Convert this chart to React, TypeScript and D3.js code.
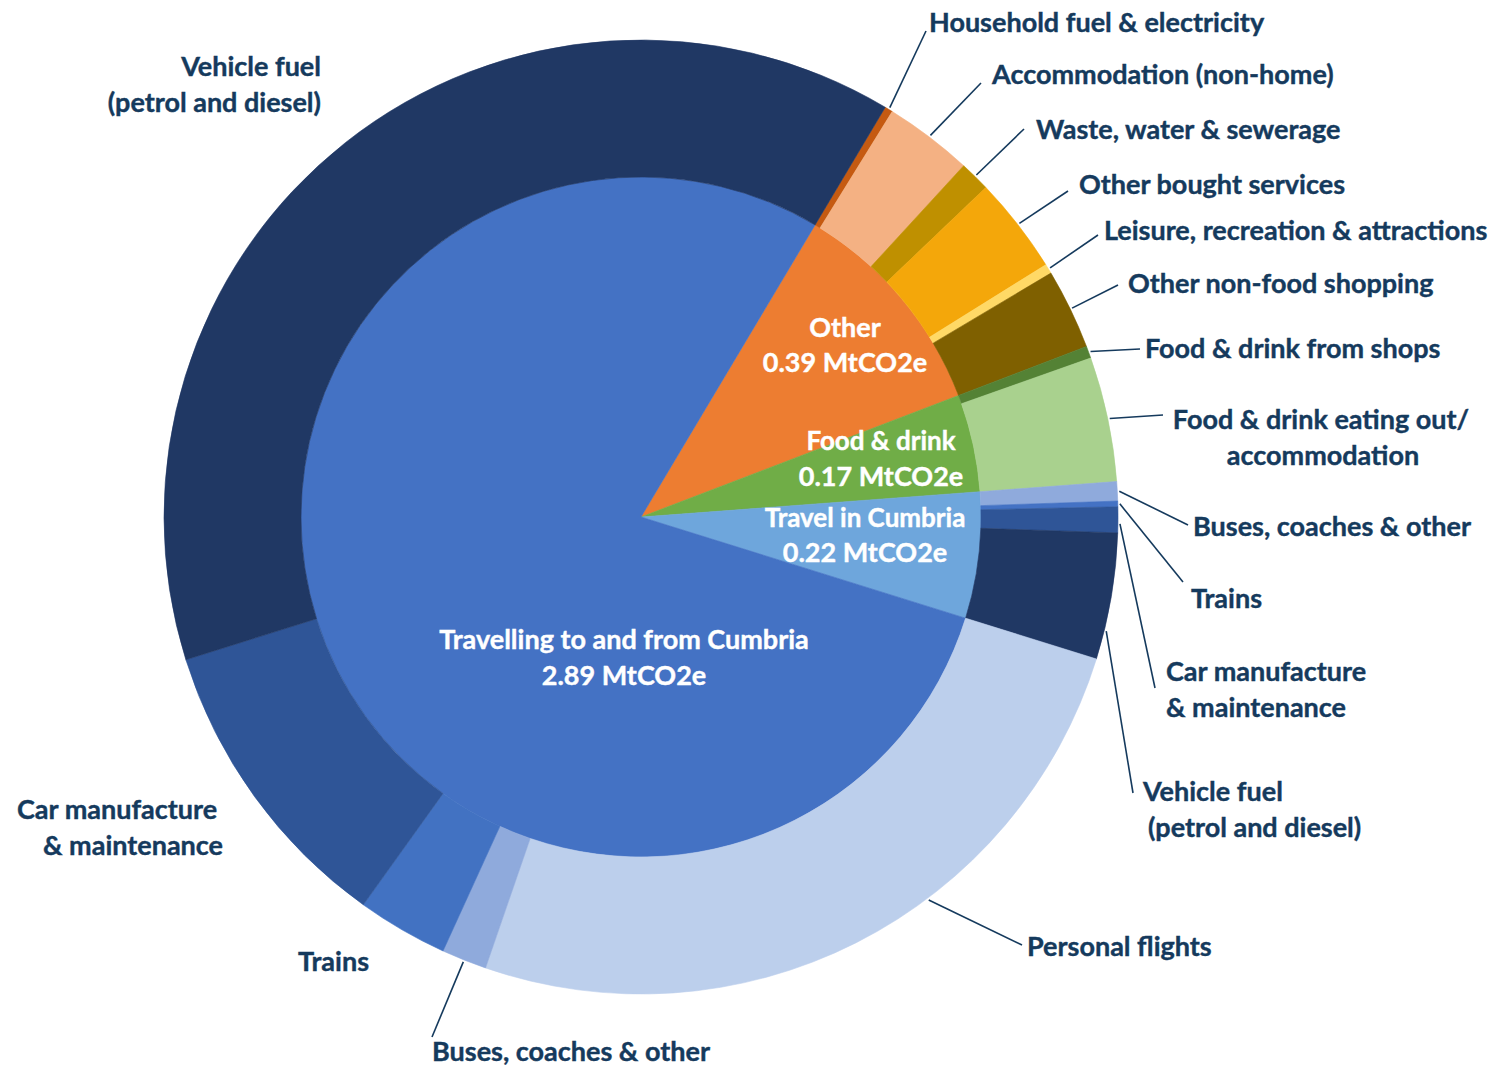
import React, { useEffect } from "react";
import * as d3 from "d3";

// ---------- data ----------
const innerCategories = ["Other", "Food & drink", "Travel in Cumbria", "Travelling to and from Cumbria"];
const innerValues = [0.39, 0.17, 0.22, 2.89];
const innerColors = ["#ed7d31", "#70ad47", "#6ea6dc", "#4472c4"];

const outerParents = [0, 0, 0, 0, 0, 0, 1, 1, 2, 2, 2, 2, 3, 3, 3, 3, 3];
const outerNames = [
  "Household fuel & electricity",
  "Accommodation (non-home)",
  "Waste, water & sewerage",
  "Other bought services",
  "Leisure, recreation & attractions",
  "Other non-food shopping",
  "Food & drink from shops",
  "Food & drink eating out/ accommodation",
  "Buses, coaches & other",
  "Trains",
  "Car manufacture & maintenance",
  "Vehicle fuel (petrol and diesel)",
  "Personal flights",
  "Buses, coaches & other",
  "Trains",
  "Car manufacture & maintenance",
  "Vehicle fuel (petrol and diesel)",
];
const outerValues = [0.01, 0.11, 0.038, 0.12, 0.012, 0.1, 0.015, 0.155, 0.024, 0.007, 0.032, 0.157, 0.935, 0.056, 0.113, 0.377, 1.409];
const outerColors = [
  "#c55a11", "#f4b183", "#bf9000", "#f4a70a", "#ffd966", "#7f6000",
  "#548235", "#a9d18e",
  "#8faadc", "#4472c4", "#2f5597", "#203864",
  "#bccfec", "#8faadc", "#4272c2", "#2f5597", "#203864",
];

const unit = "MtCO2e";

// ---------- layout ----------
const W = 1492, H = 1067;
const CX = 641, CY = 517;
const R_IN = 340, R_OUT = 477;
const START_DEG = 30.8;
const TEXT = "#153a5d";
const FONT = "Lato, 'Open Sans', sans-serif";
const FS = 27;
const FW = 700;

const innerLabelPos = [
  { x: 845, y: 328, dy2: 35, fs: 27 },
  { x: 881, y: 441, dy2: 36, fs: 26 },
  { x: 865, y: 518, dy2: 35, fs: 26 },
  { x: 624, y: 640, dy2: 36, fs: 27 },
];

type OL = { leaf: number; lines: string[]; xs: number[]; y: number; anchor?: string; end?: [number, number]; t?: number };
const outerLabels: OL[] = [
  { leaf: 0, lines: ["Household fuel & electricity"], xs: [929], y: 23, end: [926, 31] },
  { leaf: 1, lines: ["Accommodation (non-home)"], xs: [992], y: 75, end: [981, 83] },
  { leaf: 2, lines: ["Waste, water & sewerage"], xs: [1036], y: 130, end: [1024, 129] },
  { leaf: 3, lines: ["Other bought services"], xs: [1079], y: 185, end: [1068, 191] },
  { leaf: 4, lines: ["Leisure, recreation & attractions"], xs: [1104], y: 231, end: [1098, 235] },
  { leaf: 5, lines: ["Other non-food shopping"], xs: [1128], y: 284, end: [1118, 285] },
  { leaf: 6, lines: ["Food & drink from shops"], xs: [1145], y: 349, end: [1140, 349] },
  { leaf: 7, lines: ["Food & drink eating out/", "accommodation"], xs: [1321, 1323], y: 420, anchor: "middle", end: [1163, 415] },
  { leaf: 8, lines: ["Buses, coaches & other"], xs: [1193], y: 527, end: [1188, 525] },
  { leaf: 9, lines: ["Trains"], xs: [1191], y: 599, end: [1183, 582] },
  { leaf: 10, lines: ["Car manufacture", "& maintenance"], xs: [1166, 1166], y: 672, end: [1155, 688], t: 0.65 },
  { leaf: 11, lines: ["Vehicle fuel", "(petrol and diesel)"], xs: [1143, 1148], y: 792, end: [1133, 793], t: 0.77 },
  { leaf: 12, lines: ["Personal flights"], xs: [1027], y: 947, end: [1022, 945], t: 0.39 },
  { leaf: 13, lines: ["Buses, coaches & other"], xs: [432], y: 1052, end: [432, 1037] },
  { leaf: 14, lines: ["Trains"], xs: [298], y: 962 },
  { leaf: 15, lines: ["Car manufacture", "& maintenance"], xs: [17, 43], y: 810 },
  { leaf: 16, lines: ["Vehicle fuel", "(petrol and diesel)"], xs: [321, 321], y: 67, anchor: "end" },
];

export default function App() {
  useEffect(() => {
    document.body.style.margin = "0";
    document.body.style.background = "#ffffff";
  }, []);

  const a0 = (START_DEG * Math.PI) / 180;
  const innerPie = d3.pie<number>().sort(null).value((d) => d).startAngle(a0).endAngle(a0 + 2 * Math.PI);
  const innerArcs = innerPie(innerValues);

  const outerArcs: { startAngle: number; endAngle: number; index: number }[] = new Array(outerValues.length);
  innerArcs.forEach((pa, pi) => {
    const idx = outerParents.map((p, i) => (p === pi ? i : -1)).filter((i) => i >= 0);
    const sub = d3.pie<number>().sort(null).value((i) => outerValues[i]).startAngle(pa.startAngle).endAngle(pa.endAngle)(idx);
    sub.forEach((s) => {
      outerArcs[s.data] = { startAngle: s.startAngle, endAngle: s.endAngle, index: s.data };
    });
  });

  const innerArc = d3.arc<any>().innerRadius(0).outerRadius(R_IN);
  const outerArc = d3.arc<any>().innerRadius(R_IN).outerRadius(R_OUT);

  const polar = (ang: number, r: number): [number, number] => [CX + r * Math.sin(ang), CY - r * Math.cos(ang)];

  return (
    <svg width={W} height={H} viewBox={`0 0 ${W} ${H}`} style={{ display: "block", background: "#fff" }} fontFamily={FONT}>
      <g transform={`translate(${CX},${CY})`}>
        {innerArcs.map((a, i) => (
          <path key={"in" + i} d={innerArc(a) as string} fill={innerColors[i]} stroke={innerColors[i]} strokeWidth={0.6} />
        ))}
        {outerArcs.map((a, i) => (
          <path key={"out" + i} d={outerArc(a) as string} fill={outerColors[i]} stroke={outerColors[i]} strokeWidth={0.6} />
        ))}
      </g>
      {innerCategories.map((c, i) => {
        const p = innerLabelPos[i];
        return (
          <g key={"il" + i} fill="#ffffff" stroke="#ffffff" strokeWidth={0.4} fontWeight={FW} fontSize={p.fs} textAnchor="middle">
            <text x={p.x} y={p.y} dy="0.35em">{c}</text>
            <text x={p.x} y={p.y + p.dy2} dy="0.35em" fontSize={27}>{`${innerValues[i].toFixed(2)} ${unit}`}</text>
          </g>
        );
      })}
      {outerLabels.map((l, k) => {
        const a = outerArcs[l.leaf];
        const t = l.t ?? 0.5;
        const ang = a.startAngle + (a.endAngle - a.startAngle) * t;
        const s = polar(ang, R_OUT + 2);
        return (
          <g key={"ol" + k}>
            {l.end && <line x1={s[0]} y1={s[1]} x2={l.end[0]} y2={l.end[1]} stroke={TEXT} strokeWidth={1.6} />}
            {l.lines.map((ln, j) => (
              <text key={j} x={l.xs[j]} y={l.y + j * 36} dy="0.35em" fill={TEXT} stroke={TEXT} strokeWidth={0.4} fontWeight={FW} fontSize={FS} textAnchor={(l.anchor as any) || "start"}>
                {ln}
              </text>
            ))}
          </g>
        );
      })}
    </svg>
  );
}
